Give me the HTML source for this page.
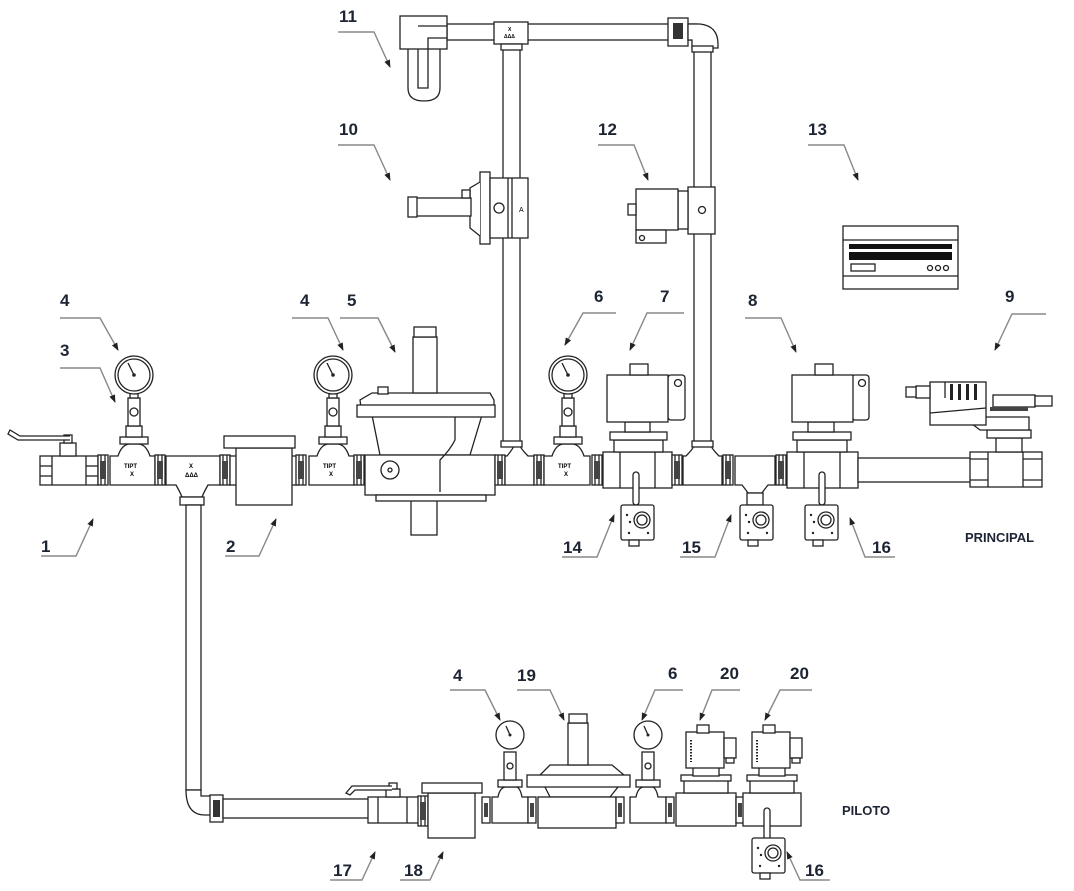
<!DOCTYPE html>
<html><head><meta charset="utf-8"><style>
html,body{margin:0;padding:0;background:#fff}
svg{display:block}
.l{fill:#fff;stroke:#222;stroke-width:1.3}
.n{fill:none;stroke:#222;stroke-width:1.3}
.ld{fill:none;stroke:#888;stroke-width:1.4}
.ar{fill:#222;stroke:#222;stroke-width:1}
.t{font-family:"Liberation Sans",sans-serif;font-weight:bold;font-size:17px;fill:#1d2433}
.s{font-family:"Liberation Sans",sans-serif;font-weight:bold;font-size:13px;fill:#1d2433}
.g{fill:#fff;stroke:#222;stroke-width:1.3}
</style></head><body>
<svg width="1074" height="891" viewBox="0 0 1074 891" xmlns="http://www.w3.org/2000/svg">
<defs>
<marker id="a" markerWidth="8" markerHeight="8" refX="7" refY="4" orient="auto" markerUnits="userSpaceOnUse"><path d="M0,1 L8,4 L0,7 z" fill="#222"/></marker>
<g id="gauge"><circle r="19" class="g"/><circle r="16" class="n" stroke-width="0.6"/><line x1="0" y1="0" x2="-6" y2="-12" class="n" stroke-width="1.5"/><circle r="1.8" fill="#222"/></g>
<g id="gaugeS"><circle r="14" class="g"/><line x1="0" y1="0" x2="-4" y2="-9" class="n" stroke-width="1.3"/><circle r="1.5" fill="#222"/></g>
<g id="sw"><rect x="0" y="0" width="33" height="35" rx="2" class="l"/><circle cx="21" cy="15" r="8" class="l"/><circle cx="21" cy="15" r="5" class="n"/><circle cx="6" cy="10" r="1.2" fill="#222"/><circle cx="9" cy="17" r="1.2" fill="#222"/><circle cx="8" cy="28" r="1.2" fill="#222"/><circle cx="27" cy="28" r="1.2" fill="#222"/><rect x="8" y="35" width="10" height="6" class="l"/></g>
<g id="union"><rect x="0" y="0" width="10" height="30" class="l"/><line x1="3" y1="0" x2="3" y2="30" class="n"/><line x1="7" y1="0" x2="7" y2="30" class="n"/><rect x="2" y="6" width="6" height="18" fill="#444"/></g>
</defs>

<!-- MAIN LINE -->
<!-- ball valve 1 -->
<rect x="40" y="456" width="58" height="29" class="l"/>
<line x1="52" y1="456" x2="52" y2="485" class="n"/><line x1="86" y1="456" x2="86" y2="485" class="n"/>
<line x1="40" y1="466" x2="52" y2="466" class="n"/><line x1="40" y1="476" x2="52" y2="476" class="n"/>
<line x1="86" y1="466" x2="98" y2="466" class="n"/><line x1="86" y1="476" x2="98" y2="476" class="n"/>
<rect x="60" y="443" width="16" height="13" class="l"/><rect x="64" y="435" width="8" height="8" class="l"/>
<path d="M70,440 L18,440 L8,434 L10,430 L20,436 L70,436" class="l"/>
<use href="#union" x="98" y="455"/>
<!-- tee 3 -->
<path d="M110,456 L118,456 Q122,444 130,444 L138,444 Q146,444 150,456 L155,456 L155,485 L110,485 Z" class="l"/>
<rect x="120" y="437" width="28" height="7" class="l"/>
<rect x="126" y="426" width="16" height="11" class="l"/>
<rect x="128" y="398" width="12" height="28" class="l"/><circle cx="134" cy="412" r="4" class="n"/>
<rect x="130" y="392" width="8" height="6" class="l"/>
<text x="124" y="468" font-family="Liberation Sans" font-size="6" font-weight="bold">TIPT</text>
<text x="130" y="476" font-family="Liberation Sans" font-size="6" font-weight="bold">X</text>
<use href="#gauge" x="134" y="375"/>
<use href="#union" x="155" y="455"/>
<!-- tee with branch -->
<path d="M166,456 L220,456 L220,485 L208,485 Q204,492 202,497 L182,497 Q180,492 176,485 L166,485 Z" class="l"/>
<rect x="180" y="497" width="24" height="8" class="l"/>
<text x="189" y="468" font-family="Liberation Sans" font-size="6" font-weight="bold">X</text>
<text x="185" y="477" font-family="Liberation Sans" font-size="6" font-weight="bold">ΔΔΔ</text>
<use href="#union" x="220" y="455"/>
<!-- filter 2 -->
<rect x="230" y="456" width="10" height="29" class="l"/><rect x="288" y="456" width="10" height="29" class="l"/>
<rect x="236" y="448" width="56" height="57" class="l"/>
<rect x="224" y="436" width="71" height="12" class="l"/>
<use href="#union" x="296" y="455"/>
<!-- tee 4 -->
<path d="M309,456 L317,456 Q321,444 329,444 L337,444 Q345,444 349,456 L354,456 L354,485 L309,485 Z" class="l"/>
<rect x="319" y="437" width="28" height="7" class="l"/><rect x="325" y="426" width="16" height="11" class="l"/>
<rect x="327" y="398" width="12" height="28" class="l"/><circle cx="333" cy="412" r="4" class="n"/><rect x="329" y="392" width="8" height="6" class="l"/>
<text x="323" y="468" font-family="Liberation Sans" font-size="6" font-weight="bold">TIPT</text>
<text x="329" y="476" font-family="Liberation Sans" font-size="6" font-weight="bold">X</text>
<use href="#gauge" x="333" y="375"/>
<use href="#union" x="354" y="455"/>
<!-- regulator 5 -->
<rect x="411" y="495" width="26" height="40" class="l"/>
<path d="M372,415 L362,415 L360,400 L372,393 L490,393 L494,400 L494,415 L482,415 L470,455 L380,455 Z" class="l"/>
<rect x="357" y="405" width="138" height="12" class="l"/>
<rect x="413" y="337" width="24" height="56" class="l"/><rect x="414" y="327" width="22" height="10" class="l"/>
<rect x="378" y="387" width="10" height="7" class="l"/>
<rect x="365" y="455" width="130" height="40" class="l"/>
<circle cx="390" cy="470" r="9" class="l"/><circle cx="390" cy="470" r="2" class="n"/>
<rect x="376" y="495" width="110" height="6" class="l"/>
<path d="M455,417 L455,440 Q450,450 440,460 L440,492" class="n" stroke-width="2"/>
<use href="#union" x="495" y="455"/>
<!-- tee vertical up (main) -->
<path d="M505,456 L507,456 Q512,450 514,446 L520,446 Q522,450 528,456 L534,456 L534,485 L505,485 Z" class="l"/>
<rect x="503" y="40" width="17" height="406" class="l"/>
<rect x="501" y="441" width="21" height="6" class="l"/>
<use href="#union" x="534" y="455"/>
<!-- tee 6 -->
<path d="M544,456 L552,456 Q556,444 564,444 L572,444 Q580,444 584,456 L590,456 L590,485 L544,485 Z" class="l"/>
<rect x="554" y="437" width="28" height="7" class="l"/><rect x="560" y="426" width="16" height="11" class="l"/>
<rect x="562" y="398" width="12" height="28" class="l"/><circle cx="568" cy="412" r="4" class="n"/><rect x="564" y="392" width="8" height="6" class="l"/>
<text x="558" y="468" font-family="Liberation Sans" font-size="6" font-weight="bold">TIPT</text>
<text x="564" y="476" font-family="Liberation Sans" font-size="6" font-weight="bold">X</text>
<use href="#gauge" x="568" y="375"/>
<use href="#union" x="592" y="455"/>
<!-- valve 7 -->
<rect x="603" y="452" width="69" height="36" class="l"/>
<line x1="620" y1="452" x2="620" y2="488" class="n"/><line x1="655" y1="452" x2="655" y2="488" class="n"/>
<rect x="614" y="440" width="49" height="12" class="l"/>
<rect x="610" y="432" width="57" height="8" class="l"/>
<rect x="625" y="422" width="25" height="10" class="l"/>
<rect x="668" y="375" width="17" height="45" rx="3" class="l"/><circle cx="678" cy="383" r="3.5" class="n"/>
<rect x="607" y="375" width="61" height="47" class="l"/>
<rect x="630" y="364" width="18" height="11" class="l"/>
<rect x="633" y="472" width="6" height="33" rx="3" class="l"/>
<use href="#sw" x="621" y="505"/>
<use href="#union" x="672" y="455"/>
<!-- tee right vertical -->
<path d="M683,456 L686,456 Q692,450 694,446 L711,446 Q713,450 719,456 L722,456 L722,485 L683,485 Z" class="l"/>
<rect x="694" y="40" width="17" height="406" class="l"/>
<rect x="692" y="441" width="21" height="6" class="l"/>
<use href="#union" x="723" y="455"/>
<!-- tee 15 -->
<path d="M735,456 L775,456 L775,485 L768,485 Q764,490 762,493 L748,493 Q746,490 742,485 L735,485 Z" class="l"/>
<rect x="747" y="493" width="16" height="12" class="l"/>
<use href="#sw" x="740" y="505"/>
<use href="#union" x="776" y="455"/>
<!-- valve 8 -->
<rect x="787" y="452" width="71" height="36" class="l"/>
<line x1="804" y1="452" x2="804" y2="488" class="n"/><line x1="840" y1="452" x2="840" y2="488" class="n"/>
<rect x="797" y="440" width="50" height="12" class="l"/>
<rect x="793" y="432" width="58" height="8" class="l"/>
<rect x="808" y="422" width="26" height="10" class="l"/>
<rect x="852" y="375" width="17" height="45" rx="3" class="l"/><circle cx="862" cy="383" r="3.5" class="n"/>
<rect x="792" y="375" width="61" height="47" class="l"/>
<rect x="815" y="364" width="18" height="11" class="l"/>
<rect x="819" y="472" width="6" height="33" rx="3" class="l"/>
<use href="#sw" x="805" y="505"/>
<!-- pipe to 9 -->
<rect x="858" y="458" width="114" height="24" class="l"/>
<!-- valve 9 -->
<rect x="970" y="452" width="72" height="35" class="l"/>
<line x1="988" y1="452" x2="988" y2="487" class="n"/><line x1="1023" y1="452" x2="1023" y2="487" class="n"/>
<line x1="970" y1="459" x2="988" y2="459" class="n"/><line x1="970" y1="480" x2="988" y2="480" class="n"/>
<line x1="1023" y1="459" x2="1042" y2="459" class="n"/><line x1="1023" y1="480" x2="1042" y2="480" class="n"/>
<rect x="996" y="438" width="26" height="14" class="l"/>
<rect x="987" y="430" width="44" height="8" class="l"/>
<path d="M963,417 L1029,417 L1029,430 L980,430 Z" class="l"/>
<rect x="930" y="382" width="56" height="43" class="l"/>
<line x1="930" y1="413" x2="986" y2="408" class="n"/>
<line x1="945" y1="382" x2="945" y2="398" class="n"/>
<rect x="950" y="384" width="3" height="16" fill="#222"/><rect x="958" y="384" width="3" height="16" fill="#222"/><rect x="966" y="384" width="3" height="16" fill="#222"/><rect x="974" y="384" width="3" height="16" fill="#222"/>
<rect x="916" y="386" width="14" height="12" class="l"/><rect x="906" y="387" width="10" height="10" class="l"/>
<rect x="993" y="395" width="42" height="12" class="l"/><rect x="1035" y="396" width="17" height="10" class="l"/>
<rect x="990" y="407" width="38" height="4" fill="#444"/>

<!-- TOP -->
<rect x="447" y="24" width="250" height="16" class="l"/>
<rect x="494" y="22" width="34" height="22" class="l"/>
<text x="508" y="31" font-family="Liberation Sans" font-size="5" font-weight="bold">X</text>
<text x="504" y="38" font-family="Liberation Sans" font-size="5" font-weight="bold">ΔΔΔ</text>
<rect x="501" y="44" width="21" height="6" class="l"/>
<rect x="668" y="18" width="20" height="28" class="l"/><rect x="673" y="23" width="10" height="16" fill="#333"/>
<path d="M688,24 L700,24 Q718,26 718,44 L718,48 L692,48 L692,40 L688,40 Z" class="l"/>
<rect x="692" y="46" width="21" height="6" class="l"/>
<!-- 11 -->
<rect x="400" y="16" width="47" height="33" class="l"/>
<path d="M418,49 L418,88 L428,88 L428,38 L447,38" class="n"/>
<path d="M418,26 L447,26" class="n"/>
<path d="M408,49 L408,88 Q408,101 424,101 Q440,101 440,88 L440,49" class="n"/>
<!-- 10 -->
<rect x="480" y="172" width="10" height="72" class="l"/>
<path d="M480,182 L470,188 L470,228 L480,236" class="l"/>
<rect x="490" y="178" width="38" height="60" class="l"/>
<line x1="508" y1="178" x2="508" y2="238" class="n"/><line x1="512" y1="178" x2="512" y2="238" class="n"/>
<circle cx="499" cy="208" r="5" class="n"/>
<text x="519" y="212" font-family="Liberation Sans" font-size="7">A</text>
<rect x="416" y="198" width="55" height="18" class="l"/>
<rect x="408" y="197" width="9" height="20" class="l"/>
<rect x="462" y="190" width="8" height="8" class="l"/>
<!-- 12 -->
<rect x="688" y="187" width="27" height="47" class="l"/><circle cx="702" cy="210" r="3.5" class="n"/>
<rect x="678" y="191" width="10" height="38" class="l"/>
<rect x="636" y="189" width="42" height="41" class="l"/>
<rect x="628" y="204" width="8" height="11" class="l"/>
<rect x="636" y="230" width="30" height="13" class="l"/><circle cx="642" cy="238" r="2.5" class="n"/>
<!-- 13 -->
<rect x="843" y="226" width="115" height="63" class="l"/>
<line x1="843" y1="240" x2="958" y2="240" class="n"/><line x1="843" y1="276" x2="958" y2="276" class="n"/>
<rect x="849" y="244" width="103" height="5" fill="#111"/><rect x="849" y="252" width="103" height="8" fill="#111"/>
<rect x="851" y="264" width="24" height="7" class="n"/>
<circle cx="930" cy="268" r="2.5" class="n"/><circle cx="938" cy="268" r="2.5" class="n"/><circle cx="946" cy="268" r="2.5" class="n"/>

<!-- PILOT -->
<rect x="186" y="505" width="15" height="285" class="l"/>
<path d="M186,790 Q186,815 205,815 L212,815 L212,796 L201,796 L201,790 Z" class="l"/>
<rect x="210" y="795" width="13" height="27" class="l"/><rect x="213" y="800" width="7" height="17" fill="#333"/>
<rect x="223" y="799" width="147" height="19" class="l"/>
<!-- 17 -->
<rect x="368" y="797" width="52" height="26" class="l"/>
<line x1="378" y1="797" x2="378" y2="823" class="n"/><line x1="407" y1="797" x2="407" y2="823" class="n"/>
<rect x="386" y="789" width="14" height="8" class="l"/><rect x="389" y="783" width="8" height="6" class="l"/>
<path d="M392,786 L352,786 L346,793 L350,795 L355,790 L392,790" class="l"/>
<use href="#union" x="418" y="796" transform="scale(1)"/>
<!-- 18 -->
<rect x="428" y="793" width="47" height="45" class="l"/>
<rect x="422" y="783" width="60" height="10" class="l"/>
<rect x="482" y="797" width="8" height="26" class="l"/><rect x="484" y="803" width="4" height="14" fill="#444"/>
<!-- tee 4 pilot -->
<path d="M492,797 L498,797 Q500,787 506,787 L516,787 Q520,787 522,797 L528,797 L528,823 L492,823 Z" class="l"/>
<rect x="498" y="780" width="24" height="7" class="l"/><rect x="504" y="752" width="12" height="28" class="l"/><circle cx="510" cy="766" r="3" class="n"/>
<use href="#gaugeS" x="510" y="735"/>
<rect x="528" y="797" width="8" height="26" class="l"/><rect x="530" y="803" width="4" height="14" fill="#444"/>
<!-- 19 -->
<path d="M545,787 L540,775 L550,765 L612,765 L624,775 L618,787 L610,797 L550,797 Z" class="l"/>
<rect x="527" y="775" width="103" height="12" class="l"/>
<rect x="568" y="723" width="20" height="42" class="l"/><rect x="569" y="714" width="18" height="9" class="l"/>
<rect x="538" y="797" width="78" height="31" class="l"/>
<rect x="616" y="797" width="8" height="26" class="l"/><rect x="618" y="803" width="4" height="14" fill="#444"/>
<!-- tee 6 pilot -->
<path d="M630,797 L636,797 Q638,787 644,787 L652,787 Q656,787 658,797 L666,797 L666,823 L630,823 Z" class="l"/>
<rect x="636" y="780" width="24" height="7" class="l"/><rect x="642" y="752" width="12" height="28" class="l"/><circle cx="648" cy="766" r="3" class="n"/>
<use href="#gaugeS" x="648" y="735"/>
<rect x="666" y="797" width="8" height="26" class="l"/><rect x="668" y="803" width="4" height="14" fill="#444"/>
<!-- 20 a -->
<rect x="676" y="793" width="60" height="33" class="l"/>
<rect x="684" y="780" width="44" height="13" class="l"/><rect x="681" y="775" width="50" height="6" class="l"/>
<rect x="693" y="766" width="26" height="10" class="l"/>
<rect x="686" y="732" width="38" height="36" class="l"/>
<rect x="697" y="725" width="12" height="8" class="l"/>
<rect x="724" y="738" width="12" height="20" class="l"/><rect x="726" y="758" width="8" height="5" class="l"/>
<line x1="691" y1="740" x2="691" y2="762" stroke="#222" stroke-width="2" stroke-dasharray="1.5,1.5"/>
<rect x="736" y="797" width="8" height="26" class="l"/><rect x="738" y="803" width="4" height="14" fill="#444"/>
<!-- 20 b -->
<rect x="743" y="793" width="58" height="33" class="l"/>
<rect x="750" y="780" width="44" height="13" class="l"/><rect x="747" y="775" width="50" height="6" class="l"/>
<rect x="759" y="766" width="26" height="10" class="l"/>
<rect x="752" y="732" width="38" height="36" class="l"/>
<rect x="763" y="725" width="12" height="8" class="l"/>
<rect x="790" y="738" width="12" height="20" class="l"/><rect x="792" y="758" width="8" height="5" class="l"/>
<line x1="757" y1="740" x2="757" y2="762" stroke="#222" stroke-width="2" stroke-dasharray="1.5,1.5"/>
<rect x="764" y="808" width="6" height="32" rx="3" class="l"/>
<use href="#sw" x="752" y="838"/>

<!-- LEADERS -->
<g class="ld" marker-end="url(#a)">
<path d="M60,318 L100,318 L118,350" />
<path d="M60,368 L100,368 L115,402" />
<path d="M292,318 L328,318 L343,350" />
<path d="M340,318 L378,318 L395,352" />
<path d="M616,313 L583,313 L565,345" />
<path d="M684,313 L647,313 L630,350" />
<path d="M745,318 L781,318 L796,352" />
<path d="M1046,314 L1012,314 L995,350" />
<path d="M338,32 L374,32 L390,67" />
<path d="M338,145 L374,145 L390,180" />
<path d="M598,145 L634,145 L648,180" />
<path d="M808,145 L844,145 L858,180" />
<path d="M41,556 L76,556 L93,519" />
<path d="M225,556 L259,556 L276,519" />
<path d="M562,557 L597,557 L614,515" />
<path d="M680,557 L715,557 L731,515" />
<path d="M895,557 L865,557 L850,518" />
<path d="M450,690 L485,690 L500,720" />
<path d="M517,690 L550,690 L564,720" />
<path d="M683,690 L655,690 L642,720" />
<path d="M740,690 L712,690 L700,720" />
<path d="M812,690 L780,690 L765,720" />
<path d="M330,880 L362,880 L375,852" />
<path d="M400,880 L430,880 L443,852" />
<path d="M830,880 L800,880 L787,852" />
</g>

<!-- LABELS -->
<text class="t" x="60" y="306">4</text>
<text class="t" x="60" y="356">3</text>
<text class="t" x="300" y="306">4</text>
<text class="t" x="347" y="306">5</text>
<text class="t" x="594" y="302">6</text>
<text class="t" x="660" y="302">7</text>
<text class="t" x="748" y="306">8</text>
<text class="t" x="1005" y="302">9</text>
<text class="t" x="339" y="22">11</text>
<text class="t" x="339" y="135">10</text>
<text class="t" x="598" y="135">12</text>
<text class="t" x="808" y="135">13</text>
<text class="t" x="41" y="552">1</text>
<text class="t" x="226" y="552">2</text>
<text class="t" x="563" y="553">14</text>
<text class="t" x="682" y="553">15</text>
<text class="t" x="872" y="553">16</text>
<text class="s" x="965" y="542">PRINCIPAL</text>
<text class="t" x="453" y="681">4</text>
<text class="t" x="517" y="681">19</text>
<text class="t" x="668" y="679">6</text>
<text class="t" x="720" y="679">20</text>
<text class="t" x="790" y="679">20</text>
<text class="s" x="842" y="815">PILOTO</text>
<text class="t" x="333" y="876">17</text>
<text class="t" x="404" y="876">18</text>
<text class="t" x="805" y="876">16</text>
</svg>
</body></html>
